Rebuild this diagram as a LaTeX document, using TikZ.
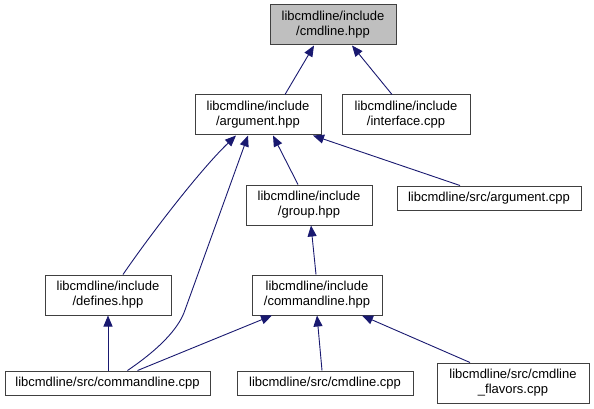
\documentclass[tikz,border=0pt]{standalone}
\usepackage{fontspec}
\setmainfont{Liberation Sans}
\usetikzlibrary{arrows.meta}
\definecolor{edgeblue}{HTML}{191970}
\definecolor{boxgray}{HTML}{404040}
\definecolor{topfill}{HTML}{BFBFBF}
\tikzset{
  box/.style={draw=boxgray, line width=1pt, fill=white, inner sep=0pt, align=center,
    font=\fontsize{13}{15}\selectfont, minimum height=40pt},
  onebox/.style={box, minimum height=24pt},
  edge/.style={draw=edgeblue, line width=0.9pt, -{Triangle[length=11pt,width=9pt]}}
}
\begin{document}
\begin{tikzpicture}[x=1pt,y=-1pt]
\useasboundingbox (0,0) rectangle (594,409);
\node[box, fill=topfill, minimum width=126pt] (top) at (333,25) {libcmdline/include\\/cmdline.hpp};
\node[box, minimum width=126pt] (arg) at (258,115) {libcmdline/include\\/argument.hpp};
\node[box, minimum width=128pt] (intf) at (406,115) {libcmdline/include\\/interface.cpp};
\node[box, minimum width=126pt] (grp) at (309,205) {libcmdline/include\\/group.hpp};
\node[onebox, minimum width=184pt] (argcpp) at (489,198) {libcmdline/src/argument.cpp};
\node[box, minimum width=126pt] (def) at (108,295) {libcmdline/include\\/defines.hpp};
\node[box, minimum width=130pt] (cmdhpp) at (317,295) {libcmdline/include\\/commandline.hpp};
\node[onebox, minimum width=205pt] (cmdcpp) at (107.5,383) {libcmdline/src/commandline.cpp};
\node[onebox, minimum width=176pt] (clcpp) at (325,383) {libcmdline/src/cmdline.cpp};
\node[box, minimum width=152pt] (flav) at (513,383) {libcmdline/src/cmdline\\\_flavors.cpp};

\draw[edge] ([xshift=27pt]arg.north) -- ([xshift=-19pt]top.south);
\draw[edge] ([xshift=-14pt]intf.north) -- ([xshift=19pt]top.south);
\draw[edge] ([xshift=-11pt]grp.north) -- ([xshift=15pt]arg.south);
\draw[edge] ([xshift=-29pt]argcpp.north) -- ([xshift=55pt]arg.south);
\draw[edge] ([xshift=15pt]def.north) .. controls (150,235) and (200,170) .. ([xshift=-22pt]arg.south);
\draw[edge] ([xshift=20pt]cmdcpp.north) .. controls (165,345) and (180,325) .. (185,310) -- ([xshift=-10pt]arg.south);
\draw[edge] ([xshift=-1pt]cmdhpp.north) -- ([xshift=2pt]grp.south);
\draw[edge] ([xshift=0.5pt]cmdcpp.north) -- (def.south);
\draw[edge] ([xshift=30pt]cmdcpp.north) -- ([xshift=-45pt]cmdhpp.south);
\draw[edge] ([xshift=-3pt]clcpp.north) -- (cmdhpp.south);
\draw[edge] ([xshift=-43pt]flav.north) -- ([xshift=45pt]cmdhpp.south);
\end{tikzpicture}
\end{document}
